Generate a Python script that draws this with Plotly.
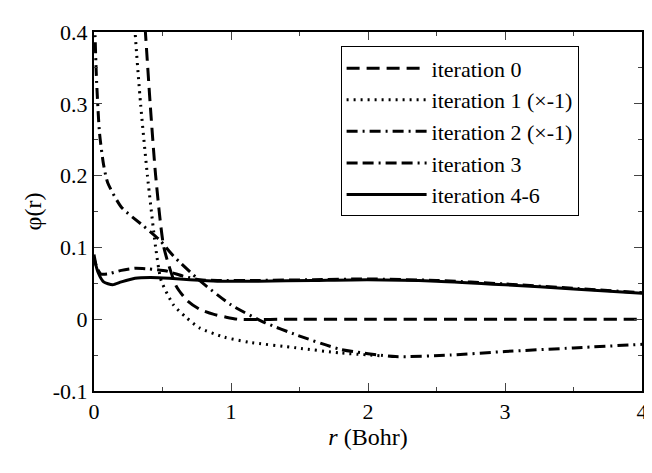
import plotly.graph_objects as go

# iteration 0
r0 = [0.3, 0.375, 0.41, 0.45, 0.51, 0.60, 0.68, 0.77, 0.87, 0.96, 1.05, 1.5, 2.0, 3.0, 4.0]
p0 = [0.6, 0.40, 0.30, 0.20, 0.10, 0.046, 0.026, 0.014, 0.007, 0.003, 0.0, 0.0, 0.0, 0.0, 0.0]
# iteration 1 (x-1)
r1 = [0.25, 0.30, 0.34, 0.39, 0.45, 0.49, 0.58, 0.67, 0.77, 0.95, 1.13, 1.48, 1.8, 2.1]
p1 = [0.6, 0.40, 0.30, 0.20, 0.10, 0.054, 0.020, 0.003, -0.012, -0.025, -0.032, -0.040, -0.047, -0.051]
# iteration 2 (x-1)
r2 = [0.0, 0.017, 0.04, 0.07, 0.10, 0.20, 0.36, 0.48, 0.58, 0.77, 1.0, 1.25, 1.48, 1.8, 2.2, 2.6, 3.0, 3.5, 4.0]
p2 = [0.45, 0.34, 0.26, 0.215, 0.19, 0.156, 0.13, 0.11, 0.088, 0.054, 0.02, -0.005, -0.022, -0.042, -0.052, -0.050, -0.045, -0.040, -0.035]
# iteration 3
r3 = [0.0, 0.02, 0.05, 0.1, 0.2, 0.3, 0.4, 0.53, 0.65, 0.77, 0.9, 1.2, 1.6, 2.0, 2.5, 3.0, 3.5, 4.0]
p3 = [0.09, 0.072, 0.063, 0.063, 0.068, 0.071, 0.070, 0.067, 0.060, 0.055, 0.054, 0.054, 0.055, 0.056, 0.054, 0.049, 0.043, 0.037]
# iteration 4-6
r4 = [0.0, 0.03, 0.07, 0.136, 0.2, 0.3, 0.41, 0.55, 0.7, 0.9, 1.2, 1.6, 2.0, 2.5, 3.0, 3.5, 4.0]
p4 = [0.085, 0.065, 0.052, 0.048, 0.052, 0.057, 0.058, 0.057, 0.055, 0.053, 0.053, 0.054, 0.055, 0.053, 0.048, 0.042, 0.036]

series = [
    ('iteration 0', r0, p0, '13px,7px'),
    ('iteration 1 (\u00d7-1)', r1, p1, '2px,5px'),
    ('iteration 2 (\u00d7-1)', r2, p2, '11px,5px,2px,5px'),
    ('iteration 3', r3, p3, '11px,5px,11px,5px,2px,5px'),
    ('iteration 4-6', r4, p4, 'solid'),
]

SERIF = '"Liberation Serif", "Times New Roman", "DejaVu Serif"'

fig = go.Figure()
for name, x, y, dash in series:
    fig.add_trace(go.Scatter(
        x=x, y=y, mode='lines', name=name,
        line=dict(color='black', width=3, dash=dash, shape='spline', smoothing=0.6),
    ))

fig.update_layout(
    width=652, height=473,
    template='simple_white',
    font=dict(family=SERIF, size=22, color='black'),
    margin=dict(l=86, r=14, t=22, b=90),
    plot_bgcolor='white', paper_bgcolor='white',
    legend=dict(
        x=0.45, y=0.96, xanchor='left', yanchor='top',
        bgcolor='white', bordercolor='black', borderwidth=1,
        font=dict(family=SERIF, size=22), tracegroupgap=0, itemwidth=80,
    ),
    xaxis=dict(
        range=[0, 4], tickvals=[0, 1, 2, 3, 4], ticks='inside', ticklen=8,
        tickfont=dict(family=SERIF, size=22),
        minor=dict(ticks='inside', ticklen=4, dtick=0.5),
        mirror='ticks', showline=True, linewidth=2, linecolor='black',
        title=dict(text='<i>r</i> (Bohr)', standoff=2, font=dict(family=SERIF, size=24)),
        showgrid=False, zeroline=False,
    ),
    yaxis=dict(
        range=[-0.1, 0.4], tickvals=[-0.1, 0, 0.1, 0.2, 0.3, 0.4],
        ticktext=['-0.1', '0', '0.1', '0.2', '0.3', '0.4'],
        tickfont=dict(family=SERIF, size=22),
        ticks='inside', ticklen=8,
        minor=dict(ticks='inside', ticklen=4, dtick=0.05),
        mirror='ticks', showline=True, linewidth=2, linecolor='black',
        title=dict(text='\u03c6(r)', standoff=4, font=dict(family=SERIF, size=24)),
        showgrid=False, zeroline=False,
    ),
)

fig.write_html("out.html")
